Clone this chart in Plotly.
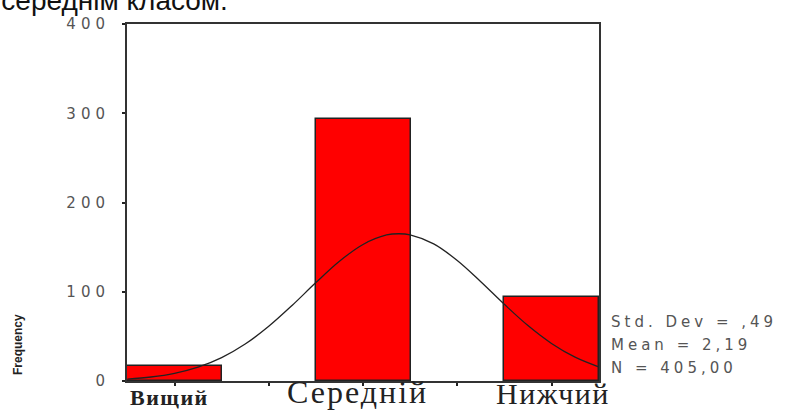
import plotly.graph_objects as go

# ---- data ----
categories = ["Вищий", "Середній", "Нижчий"]
cat_positions = [1, 2, 3]
frequencies = [17, 294, 94]

# normal curve
curve_x = [0.75, 0.875, 1.0, 1.125, 1.25, 1.375, 1.5, 1.625, 1.75, 1.875, 2.0,
           2.125, 2.19, 2.25, 2.375, 2.5, 2.625, 2.75, 2.875, 3.0, 3.125, 3.25]
curve_y = [2.2, 4.5, 8.6, 15.5, 26.2, 41.4, 61.3, 84.9, 110.3, 134.2, 153.0,
           163.6, 165.0, 163.8, 153.6, 135.0, 111.2, 85.9, 62.1, 42.1, 26.7, 15.9]

y_tick_vals = [0, 100, 200, 300, 400]
y_tick_text = ["0", "100", "200", "300", "400"]
x_tick_vals = [1, 1.5, 2, 2.5, 3]

stats_lines = ["Std. Dev = ,49", "Mean = 2,19", "N = 405,00"]
y_title = "Frequency"
top_text = "себе середнім класом."

W, H = 787, 412
L, R, T, B = 127, 188, 24, 31
plot_h = H - T - B
plot_w = W - L - R


def py(ypx):
    return (H - B - ypx) / plot_h


def px(xpx):
    return (xpx - L) / plot_w


def spaced(t, ls):
    return "<span style='letter-spacing:%spx'>%s</span>" % (ls, t)


fig = go.Figure()
fig.add_trace(go.Bar(
    x=cat_positions, y=frequencies, width=0.504,
    marker=dict(color="#FF0000", line=dict(color="#222222", width=1.5)),
    showlegend=False, hoverinfo="skip",
))
fig.add_trace(go.Scatter(
    x=curve_x, y=curve_y, mode="lines",
    line=dict(color="#222222", width=1.3, shape="spline", smoothing=1.0),
    showlegend=False, hoverinfo="skip",
))

ann = []
# category labels
cat_x = [0.975, 1.97, 3.01]
cat_sizes = [22, 32, 30]
cat_ls = [1.5, 2, 1.5]
cat_weights = ["bold", "normal", "normal"]
for c, xx, s, w, ls in zip(categories, cat_x, cat_sizes, cat_weights, cat_ls):
    ann.append(dict(x=xx, xref="x", y=py(412), yref="paper", yanchor="bottom",
                    text=spaced(c, ls), showarrow=False,
                    font=dict(family="Liberation Serif", size=s, color="#222222", weight=w)))
# stats
for t, yy in zip(stats_lines, [322, 345, 368]):
    ann.append(dict(x=px(609), xref="paper", y=py(yy), yref="paper", xanchor="left",
                    yanchor="middle", text=spaced(t, 4), showarrow=False,
                    font=dict(family="DejaVu Sans", size=15, color="#555555")))
# y-axis title
ann.append(dict(x=px(18), xref="paper", y=py(345), yref="paper", text=y_title,
                textangle=-90, showarrow=False, xanchor="center", yanchor="middle",
                font=dict(family="Liberation Sans", size=12, color="#222222", weight="bold")))
# cut-off text at top
ann.append(dict(x=px(230), xref="paper", y=py(18), yref="paper", xanchor="right",
                yanchor="bottom", text=top_text, showarrow=False,
                font=dict(family="Liberation Sans", size=28, color="#111111")))

fig.update_layout(
    width=W, height=H,
    margin=dict(l=L, r=R, t=T, b=B, pad=0),
    paper_bgcolor="white", plot_bgcolor="white",
    bargap=0,
    annotations=ann,
    xaxis=dict(range=[0.748, 3.252], tickvals=x_tick_vals, showticklabels=False,
               ticks="outside", ticklen=3, tickwidth=2, tickcolor="#222222",
               showline=True, linecolor="#333333", linewidth=2, mirror=True,
               showgrid=False, zeroline=False, automargin=False),
    yaxis=dict(range=[0, 400], tickvals=y_tick_vals,
               ticktext=[spaced(t, 5) for t in y_tick_text],
               ticks="outside", ticklen=3, tickwidth=2, tickcolor="#222222",
               ticklabelstandoff=9,
               tickfont=dict(family="DejaVu Sans", size=15, color="#555555"),
               showline=True, linecolor="#333333", linewidth=2, mirror=True,
               showgrid=False, zeroline=False, automargin=False),
)

fig.write_html("out.html", config={"displayModeBar": False},
               post_script="document.body.style.margin='0';document.body.style.overflow='hidden';")
